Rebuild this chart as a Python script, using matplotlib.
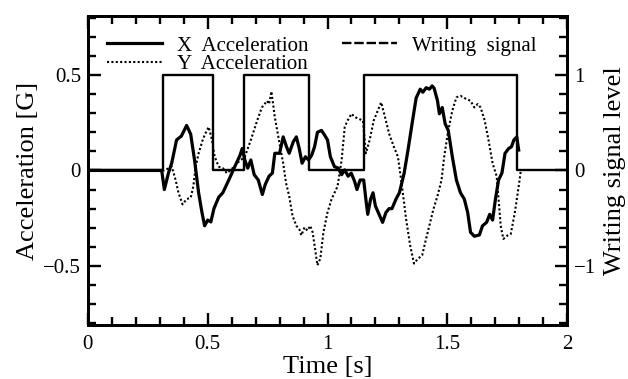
import numpy as np
import matplotlib
matplotlib.use("Agg")
import matplotlib.pyplot as plt
from matplotlib.lines import Line2D
from matplotlib.ticker import MultipleLocator, FuncFormatter

# datos
x_t = [0, 0.308, 0.319, 0.336, 0.35, 0.37, 0.39, 0.412, 0.429, 0.445, 0.462, 0.476, 0.487, 0.50, 0.513,
       0.526, 0.546, 0.563, 0.588, 0.613, 0.635, 0.644, 0.655, 0.667, 0.68, 0.694, 0.711, 0.728, 0.74,
       0.756, 0.77, 0.78, 0.80, 0.815, 0.829, 0.84, 0.857, 0.87, 0.882, 0.894, 0.908, 0.921, 0.934,
       0.946, 0.958, 0.975, 0.988, 1.0, 1.012, 1.029, 1.045, 1.059, 1.072, 1.086, 1.099, 1.113, 1.123,
       1.136, 1.151, 1.16, 1.168, 1.18, 1.19, 1.20, 1.218, 1.23, 1.244, 1.257, 1.269, 1.286, 1.30,
       1.32, 1.336, 1.353, 1.37, 1.387, 1.398, 1.412, 1.425, 1.437, 1.445, 1.459, 1.467, 1.479, 1.491,
       1.504, 1.521, 1.538, 1.555, 1.571, 1.585, 1.597, 1.613, 1.634, 1.647, 1.664, 1.677, 1.689,
       1.701, 1.714, 1.728, 1.741, 1.756, 1.768, 1.778, 1.79, 1.798]
x_acc = [0, 0, -0.10, -0.014, 0.04, 0.16, 0.18, 0.236, 0.19, 0.055, -0.117, -0.22, -0.29, -0.26, -0.27,
         -0.20, -0.14, -0.117, -0.05, 0.02, 0.08, 0.115, 0.055, 0.012, 0.055, -0.022, -0.05, -0.126, -0.074,
         -0.03, -0.014, 0.09, 0.09, 0.176, 0.124, 0.09, 0.15, 0.176, 0.115, 0.038, 0.072, 0.055, 0.08,
         0.124, 0.20, 0.21, 0.185, 0.16, 0.072, 0.02, 0.012, -0.022, 0.003, -0.03, -0.014, -0.057, -0.10,
         -0.05, -0.05, -0.15, -0.23, -0.15, -0.117, -0.186, -0.238, -0.272, -0.22, -0.20, -0.20, -0.15, -0.117,
         -0.014, 0.107, 0.245, 0.38, 0.426, 0.41, 0.434, 0.426, 0.443, 0.431, 0.366, 0.297, 0.33, 0.245,
         0.21, 0.072, -0.05, -0.117, -0.15, -0.22, -0.324, -0.345, -0.338, -0.29, -0.272, -0.23, -0.26,
         -0.15, -0.05, -0.014, 0.09, 0.115, 0.124, 0.16, 0.176, 0.107]

y_t = [0, 0.319, 0.35, 0.366, 0.378, 0.395, 0.412, 0.429, 0.44, 0.45, 0.462, 0.479, 0.49, 0.504, 0.518,
       0.529, 0.546, 0.563, 0.58, 0.597, 0.622, 0.655, 0.68, 0.706, 0.726, 0.748, 0.756, 0.766, 0.78,
       0.80, 0.815, 0.827, 0.84, 0.854, 0.87, 0.882, 0.891, 0.904, 0.916, 0.928, 0.938, 0.95, 0.958,
       0.97, 0.983, 1.0, 1.017, 1.042, 1.059, 1.072, 1.084, 1.10, 1.114, 1.131, 1.148, 1.16, 1.176,
       1.193, 1.21, 1.224, 1.24, 1.257, 1.277, 1.294, 1.311, 1.328, 1.345, 1.361, 1.378, 1.395, 1.408,
       1.425, 1.442, 1.459, 1.476, 1.487, 1.504, 1.521, 1.538, 1.555, 1.58, 1.597, 1.613, 1.627, 1.639,
       1.656, 1.672, 1.689, 1.706, 1.714, 1.723, 1.734, 1.751, 1.765, 1.782, 1.798, 1.807]
y_acc = [0, 0, 0.02, -0.05, -0.117, -0.178, -0.15, -0.143, -0.083, 0.02, 0.09, 0.16, 0.193, 0.228, 0.16,
         0.072, 0.02, 0.012, -0.014, 0.003, 0.038, 0.072, 0.16, 0.26, 0.33, 0.365, 0.348, 0.414, 0.28,
         0.14, 0.038, -0.066, -0.134, -0.238, -0.29, -0.307, -0.34, -0.298, -0.315, -0.29, -0.324, -0.428, -0.497,
         -0.462, -0.324, -0.22, -0.15, -0.083, 0.055, 0.228, 0.262, 0.297, 0.28, 0.27, 0.262, 0.09, 0.16,
         0.262, 0.314, 0.357, 0.28, 0.193, 0.124, 0.072, -0.083, -0.255, -0.393, -0.488, -0.462, -0.445, -0.376,
         -0.29, -0.203, -0.134, -0.05, 0.072, 0.21, 0.314, 0.383, 0.391, 0.374, 0.365, 0.33, 0.348, 0.33,
         0.262, 0.16, 0.038, -0.03, -0.15, -0.29, -0.359, -0.341, -0.333, -0.22, -0.083, 0]

ws_t = [0, 0.312, 0.52, 0.653, 0.924, 1.152, 1.79, 2.0]
ws_level = [0, 1, 0, 1, 0, 1, 0, 0]


def fmt(v, pos):
    return ('%g' % v).replace('-', '\u2212')


plt.rcParams['font.family'] = ['Liberation Serif', 'DejaVu Serif']

fig = plt.figure(figsize=(6.28, 3.79), dpi=100)
ax = fig.add_axes([0.140, 0.1425, 0.763, 0.8155])
ax2 = ax.twinx()

ax.plot(x_t, x_acc, color='black', lw=2.3)
ax.plot(y_t, y_acc, color='black', lw=1.5, linestyle=(0, (1, 1.1)))
ax2.plot(ws_t, ws_level, color='black', lw=1.7, drawstyle='steps-post')

ax.set_xlim(0, 2)
ax.set_ylim(-0.81, 0.81)
ax2.set_ylim(-1.62, 1.62)

ax.xaxis.set_major_locator(MultipleLocator(0.5))
ax.xaxis.set_minor_locator(MultipleLocator(0.1))
ax.yaxis.set_major_locator(MultipleLocator(0.5))
ax.yaxis.set_minor_locator(MultipleLocator(0.1))
ax2.yaxis.set_major_locator(MultipleLocator(1))
ax2.yaxis.set_minor_locator(MultipleLocator(0.2))
ax.xaxis.set_major_formatter(FuncFormatter(fmt))
ax.yaxis.set_major_formatter(FuncFormatter(fmt))
ax2.yaxis.set_major_formatter(FuncFormatter(fmt))

ax.tick_params(axis='x', which='both', direction='in', top=True, labelsize=15, width=1.7, pad=7)
ax.tick_params(axis='y', which='both', direction='in', right=False, labelsize=15, width=1.7, pad=5)
ax2.tick_params(axis='y', which='both', direction='in', labelsize=15, width=1.7, pad=5)
for a in (ax, ax2):
    a.tick_params(which='major', length=9)
    a.tick_params(which='minor', length=6)
    for s in a.spines.values():
        s.set_linewidth(2)

ax.set_xlabel('Time [s]', fontsize=19, labelpad=2)
ax.set_ylabel('Acceleration [G]', fontsize=19, labelpad=3)
ax2.set_ylabel('Writing signal level', fontsize=19, labelpad=6)

handles = [Line2D([], [], color='black', lw=2.3),
           Line2D([], [], color='black', lw=1.5, linestyle=(0, (1, 1.1))),
           Line2D([], [], color='black', lw=1.7, linestyle=(0, (4, 1.2)))]
labels = ['X  Acceleration', 'Y  Acceleration', 'Writing  signal']
ax.legend(handles, labels, loc='upper left', ncol=2, frameon=False, fontsize=15,
          handlelength=2.65, handletextpad=0.7, columnspacing=1.6, labelspacing=-0.05,
          borderaxespad=0.0, borderpad=0.0, bbox_to_anchor=(0.04, 0.935))

fig.savefig('out.png', dpi=100)
